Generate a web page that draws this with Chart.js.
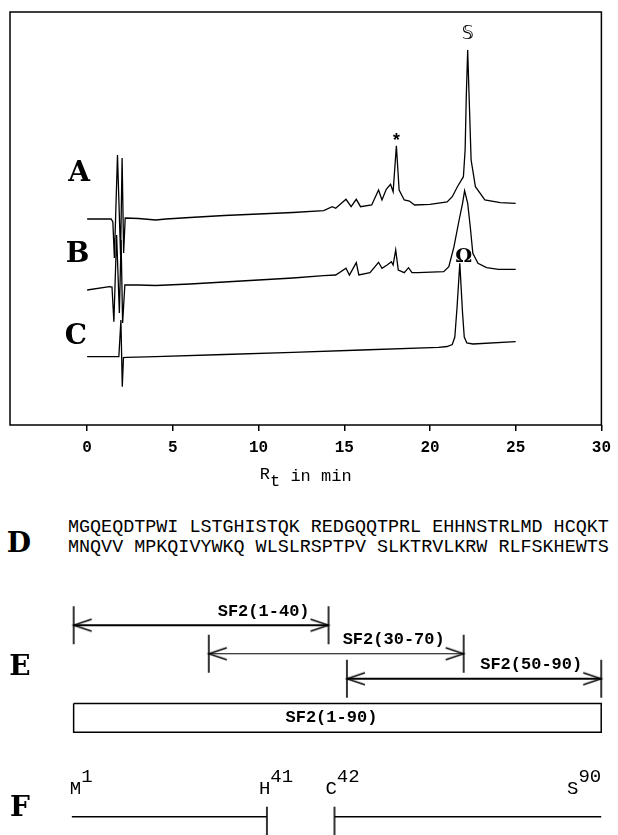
<!DOCTYPE html>
<html>
<head>
<meta charset="utf-8">
<script src="https://cdn.jsdelivr.net/npm/chart.js@4.4.1/dist/chart.umd.min.js"></script>
<style>
  html, body { margin: 0; padding: 0; background: #fff; }
  #page { position: relative; width: 618px; height: 835px; overflow: hidden; background: #fff; }
  canvas { position: absolute; left: 0; }
  .panel { position: absolute; transform: translate(-50%, -50%); font-family: "DejaVu Serif", serif;
           font-weight: bold; font-size: 28px; line-height: 28px; color: #000; }
  .seq { position: absolute; left: 68px; top: 518px; font-family: "Liberation Mono", monospace;
         font-size: 18.4px; line-height: 20px; color: #000; white-space: pre; }
</style>
</head>
<body>
<div id="page">
  <canvas id="chrom" width="618" height="490" style="top:0"></canvas>
  <canvas id="map" width="618" height="245" style="top:590px"></canvas>
  <div class="panel" style="left:79px; top:172px">A</div>
  <div class="panel" style="left:77.5px; top:252.5px">B</div>
  <div class="panel" style="left:76px; top:335px">C</div>
  <div class="panel" style="left:19px; top:543px">D</div>
  <div class="panel" style="left:20px; top:666px">E</div>
  <div class="panel" style="left:20px; top:806.5px">F</div>
  <div class="seq" id="seq"></div>
</div>
<script>
// chromatograms (retention time in min, detector signal in arbitrary units)
const timeA = [0, 1.40, 1.50, 1.59, 1.77, 1.95, 2.04, 2.13, 2.22, 3.0, 4.0, 4.6, 6.0, 8.0, 10.0, 12.0, 13.8,
  14.3, 14.5, 15.1, 15.4, 15.7, 15.95, 16.6, 17.0, 17.2, 17.45, 17.7, 17.85, 18.04, 18.2, 18.5, 18.8, 19.1,
  20.0, 21.0, 21.3, 21.6, 21.95, 22.05, 22.12, 22.2, 22.28, 22.4, 22.65, 23.2, 24.1, 25.0];
const signalA = [206, 206, 203, 167, 270, 170, 267, 172, 207, 206.5, 205, 206, 207.5, 209.5, 211, 212.5, 214.3,
  218.3, 216.7, 225.7, 218.3, 225.7, 218.3, 220, 235, 225, 235.7, 240.7, 233.3, 279.3, 235, 225, 224, 220,
  220.7, 223, 228.3, 238.3, 248.3, 275, 330, 375, 330, 265, 238.3, 225, 222.3, 221.7];

const timeB = [0, 1.30, 1.45, 1.56, 1.72, 1.88, 1.98, 2.07, 2.20, 3.0, 4.0, 6.0, 8.0, 10.0, 12.0, 13.8,
  14.5, 15.1, 15.3, 15.7, 15.85, 16.5, 17.0, 17.2, 17.5, 17.75, 17.85, 18.0, 18.15, 18.5, 18.75, 18.95, 19.3,
  20.8, 21.1, 21.4, 21.7, 21.9, 22.02, 22.2, 22.35, 22.5, 22.8, 23.3, 24.0, 25.0];
const signalB = [135, 138.3, 138, 103.3, 190, 112, 185, 102, 140, 140, 139.5, 141, 143, 145, 147, 149.3,
  150, 156.7, 150, 162.3, 150, 152.3, 162.7, 156.7, 160, 163.3, 160, 175, 155, 152.3, 157.3, 152.3, 152.3,
  153.3, 158.3, 178.3, 205, 221.7, 234.3, 221.7, 198.3, 171.7, 161.7, 157.3, 155.7, 155.7];

const timeC = [0, 1.85, 1.97, 2.05, 2.12, 2.3, 4.0, 8.0, 12.0, 16.0, 20.5, 21.0, 21.3, 21.45, 21.58, 21.74,
  21.9, 22.0, 22.15, 22.5, 25.0];
const signalC = [68.3, 68.3, 105, 38.3, 67.5, 67.7, 68.3, 70.5, 72.7, 75, 77.7, 78.5, 80.5, 88, 118, 161.7,
  112, 88, 82, 81, 83.3];

const xTicks = [0, 5, 10, 15, 20, 25, 30];

// sequence and fragment map (x positions in residues, as drawn)
const sequence = [
  "MGQEQDTPWI LSTGHISTQK REDGQQTPRL EHHNSTRLMD HCQKT",
  "MNQVV MPKQIVYWKQ WLSLRSPTPV SLKTRVLKRW RLFSKHEWTS"
];
const fragNames = ["SF2(1-40)", "SF2(30-70)", "SF2(50-90)"];
const fragFrom = [1, 23.8, 47.1];
const fragTo = [44, 66.8, 90];
const fullName = "SF2(1-90)";
const fullFrom = 1;
const fullTo = 90;
const chainFrom = [0.7, 45.0];
const chainTo = [33.6, 90];
const chainEnds = [["M", "1"], ["H", "41"], ["C", "42"], ["S", "90"]];

document.getElementById("seq").textContent = sequence.join("\n");

function zip(xs, ys) {
  return xs.map((x, i) => ({ x: x, y: ys[i] }));
}

function fillCentered(ctx, text, x, cy, align) {
  ctx.textAlign = align || "center";
  ctx.textBaseline = "alphabetic";
  const m = ctx.measureText(text);
  ctx.fillText(text, x, cy + (m.actualBoundingBoxAscent - m.actualBoundingBoxDescent) / 2);
}

const framePlugin = {
  id: "frame",
  afterDraw(chart) {
    const { ctx, chartArea: a } = chart;
    ctx.save();
    ctx.strokeStyle = "#000";
    ctx.lineWidth = 1.5;
    ctx.strokeRect(a.left, a.top, a.right - a.left, a.bottom - a.top);
    ctx.restore();
  }
};

// peak symbols put above the highest point of a window
const peakMarks = {
  id: "peakMarks",
  afterDatasetsDraw(chart, args, opts) {
    const ctx = chart.ctx;
    const xs = chart.scales.x, ys = chart.scales.y;
    ctx.save();
    ctx.fillStyle = "#000";
    opts.marks.forEach(m => {
      const pts = chart.data.datasets[m.dataset].data.filter(p => p.x >= m.from && p.x <= m.to);
      const top = pts.reduce((a, b) => (b.y > a.y ? b : a));
      ctx.font = m.font;
      fillCentered(ctx, m.text, xs.getPixelForValue(top.x) + m.dx, ys.getPixelForValue(top.y) + m.dy);
    });
    ctx.restore();
  }
};

const axisTitle = {
  id: "axisTitle",
  afterDraw(chart) {
    const { ctx, chartArea: a } = chart;
    ctx.save();
    ctx.fillStyle = "#000";
    ctx.font = '17px "Liberation Mono"';
    ctx.textAlign = "left";
    ctx.textBaseline = "alphabetic";
    const cw = ctx.measureText("R").width;
    let x = (a.left + a.right) / 2 - cw * 9 / 2;
    const base = a.bottom + 56;
    ctx.fillText("R", x, base - 2);
    ctx.fillText("t", x + cw, base + 5);
    ctx.fillText(" in min", x + cw * 2, base);
    ctx.restore();
  }
};

new Chart(document.getElementById("chrom"), {
  type: "scatter",
  data: {
    datasets: [
      { data: zip(timeA, signalA) },
      { data: zip(timeB, signalB) },
      { data: zip(timeC, signalC) }
    ]
  },
  options: {
    responsive: false,
    animation: false,
    showLine: true,
    layout: { padding: { left: 10, right: 12, top: 12, bottom: 0 } },
    elements: {
      point: { radius: 0, hoverRadius: 0 },
      line: { borderWidth: 1.3, borderColor: "#000", tension: 0 }
    },
    plugins: {
      legend: { display: false },
      tooltip: { enabled: false },
      peakMarks: {
        marks: [
          { dataset: 0, from: 17.9, to: 18.2, text: "*", font: 'bold 18px "Liberation Mono"', dx: 0, dy: -9 },
          { dataset: 0, from: 22.0, to: 22.4, text: "\u{1D54A}", font: '19px "DejaVu Sans"', dx: 0, dy: -18 },
          { dataset: 2, from: 21.5, to: 22.0, text: "\u03A9", font: 'bold 19px "DejaVu Serif"', dx: 4, dy: -8 }
        ]
      }
    },
    scales: {
      x: {
        type: "linear",
        min: -4.5,
        max: 30,
        afterBuildTicks: axis => { axis.ticks = xTicks.map(v => ({ value: v })); },
        afterFit: axis => { axis.height = 65; },
        grid: { drawOnChartArea: false, tickLength: 6, color: "#000", lineWidth: 1.5 },
        border: { display: false },
        ticks: {
          color: "#000",
          padding: 7,
          maxRotation: 0,
          autoSkip: false,
          font: { family: "Liberation Mono", size: 16, weight: "bold" }
        }
      },
      y: { display: false, min: 0, max: 413 }
    }
  },
  plugins: [framePlugin, peakMarks, axisTitle]
});

// end markers for the fragment map
function capCanvas(dir, up, down, head) {
  const half = 24;
  const c = document.createElement("canvas");
  c.width = half * 2;
  c.height = half * 2;
  const g = c.getContext("2d");
  g.strokeStyle = "#000";
  g.lineWidth = 1.6;
  g.beginPath();
  g.moveTo(half, half - up);
  g.lineTo(half, half + down);
  g.stroke();
  if (head) {
    g.lineWidth = 1.4;
    g.beginPath();
    g.moveTo(half - dir * 18, half - 6);
    g.lineTo(half, half);
    g.lineTo(half - dir * 18, half + 6);
    g.stroke();
  }
  return c;
}
const leftArrow = capCanvas(-1, 19, 19, true);
const rightArrow = capCanvas(1, 19, 19, true);
const chainTick = capCanvas(1, 10, 24, false);

const arrowLane = [30.7, 60.7, 87];
const arrowWidth = [2, 1.2, 2];
const boxTop = 113, boxBottom = 143.3, chainLane = 232;

const mapDatasets = fragNames.map((n, i) => ({
  data: [{ x: fragFrom[i], y: arrowLane[i] }, { x: fragTo[i], y: arrowLane[i] }],
  borderWidth: arrowWidth[i],
  pointStyle: [leftArrow, rightArrow],
  pointRadius: 3
}));
mapDatasets.push({
  data: [{ x: fullFrom, y: boxTop }, { x: fullTo, y: boxTop }, { x: fullTo, y: boxBottom },
         { x: fullFrom, y: boxBottom }, { x: fullFrom, y: boxTop }],
  borderWidth: 1.5,
  pointRadius: 0
});
chainFrom.forEach((f, i) => {
  mapDatasets.push({
    data: [{ x: f, y: chainLane }, { x: chainTo[i], y: chainLane }],
    borderWidth: 1.5,
    pointStyle: i === 0 ? ["circle", chainTick] : [chainTick, "circle"],
    pointRadius: i === 0 ? [0, 3] : [3, 0]
  });
});

const mapLabels = {
  id: "mapLabels",
  afterDatasetsDraw(chart) {
    const ctx = chart.ctx;
    const xs = chart.scales.x, ys = chart.scales.y;
    ctx.save();
    ctx.fillStyle = "#000";
    ctx.font = 'bold 17px "Liberation Mono"';
    fragNames.forEach((n, i) => {
      fillCentered(ctx, n, xs.getPixelForValue(fragTo[i]) - 19, ys.getPixelForValue(arrowLane[i]) - 14, "right");
    });
    fillCentered(ctx, fullName, (xs.getPixelForValue(fullFrom) + xs.getPixelForValue(fullTo)) / 2 - 6,
      (ys.getPixelForValue(boxTop) + ys.getPixelForValue(boxBottom)) / 2);

    ctx.font = '19px "Liberation Mono"';
    ctx.textBaseline = "alphabetic";
    const lane = ys.getPixelForValue(chainLane);
    const ends = [
      { x: xs.getPixelForValue(chainFrom[0]) - 2, align: "left" },
      { x: xs.getPixelForValue(chainTo[0]) - 8, align: "left" },
      { x: xs.getPixelForValue(chainFrom[1]) - 9, align: "left" },
      { x: xs.getPixelForValue(chainTo[1]), align: "right" }
    ];
    chainEnds.forEach((e, i) => {
      const wl = ctx.measureText(e[0]).width;
      const wn = ctx.measureText(e[1]).width;
      const x0 = ends[i].align === "left" ? ends[i].x : ends[i].x - wl - wn;
      ctx.textAlign = "left";
      ctx.fillText(e[0], x0, lane - 23);
      ctx.fillText(e[1], x0 + wl, lane - 35);
    });
    ctx.restore();
  }
};

new Chart(document.getElementById("map"), {
  type: "scatter",
  data: { datasets: mapDatasets },
  options: {
    responsive: false,
    animation: false,
    showLine: true,
    layout: { padding: 0 },
    elements: { line: { borderColor: "#000", tension: 0 } },
    datasets: { scatter: { clip: false } },
    plugins: { legend: { display: false }, tooltip: { enabled: false } },
    scales: {
      x: { display: false, min: -10.41, max: 91.82 },
      y: { display: false, min: 0, max: 245, reverse: true }
    }
  },
  plugins: [mapLabels]
});
</script>
</body>
</html>
